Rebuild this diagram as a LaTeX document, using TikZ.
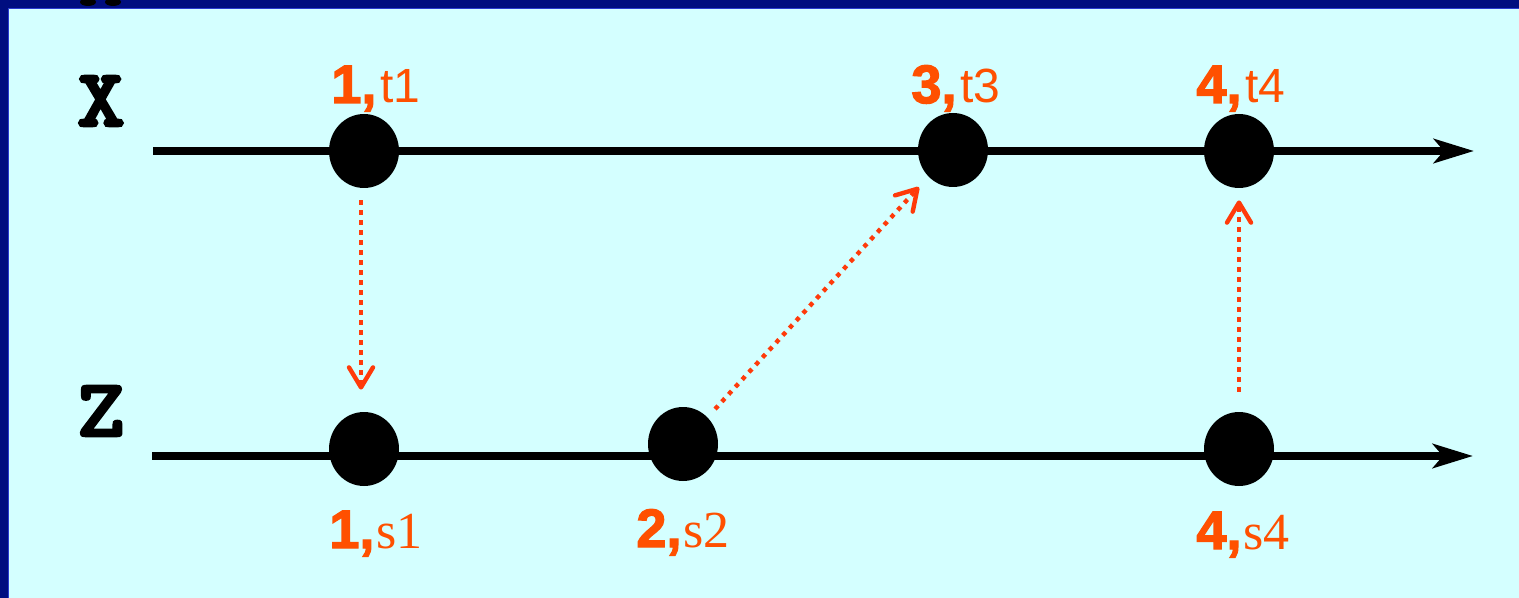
\documentclass[tikz,border=0pt]{standalone}
\usepackage{fontspec}
\usetikzlibrary{arrows.meta,shapes.geometric}
\setmainfont{Liberation Serif}
\newfontfamily\heavy[FakeBold=2.5]{Liberation Sans Bold}
\newfontfamily\tsans{Liberation Sans}
\newfontfamily\tserif{Liberation Serif}
\newfontfamily\monob{lmmonolt10-bold}[Extension=.otf,FakeBold=3,FakeStretch=1.12]
\definecolor{navy}{HTML}{000E80}
\definecolor{edgeblue}{HTML}{2A3CD0}
\definecolor{bgcyan}{HTML}{D4FFFF}
\definecolor{lblorange}{HTML}{FF5000}
\definecolor{arrred}{HTML}{FF3A0A}
\tikzset{
  dot/.style={ellipse,fill=black,inner sep=0pt,minimum width=35pt,minimum height=37pt},
  axis/.style={line width=4pt,-{Stealth[length=20pt,width=12pt,inset=5pt]}},
  msg/.style={arrred,line width=2.2pt,dash pattern=on 2.2pt off 2.8pt,
    -{Straight Barb[length=10pt,width=12pt,line width=2.2pt,line cap=round,line join=round]}},
  lbl/.style={anchor=base west,inner sep=0pt,text=lblorange},
  proc/.style={font=\monob\fontsize{41}{41}\selectfont,inner sep=0pt}
}
\newcommand{\bignum}[1]{{\heavy\fontsize{27}{27}\selectfont #1}}
\newcommand{\tlab}[1]{\hspace{2pt}{\tsans\fontsize{24}{24}\selectfont #1}}
\newcommand{\slab}[1]{\hspace{1pt}{\tserif\fontsize{26}{26}\selectfont #1}}
\begin{document}
\begin{tikzpicture}[x=0.5pt,y=-0.5pt]
\useasboundingbox (0,0) rectangle (1519,598);
\fill[navy] (0,0) rectangle (1519,598);
\fill[bgcyan] (8,8) rectangle (1519,598);
\draw[edgeblue,line width=0.6pt] (8.3,598) -- (8.3,8.3) -- (1519,8.3);
\fill[black] (88,2) ellipse (8 and 4);
\fill[black] (113,2) ellipse (8 and 4);
% process labels
\node[proc] (X) at (101,101) {X};
\node[proc] (Z) at (101,411) {Z};
% axes
\coordinate (xl) at (153,151);
\coordinate (xr) at (1474,151);
\coordinate (zl) at (152,456);
\coordinate (zr) at (1473,456);
\draw[axis] (xl) -- (xr);
\draw[axis] (zl) -- (zr);
% events
\node[dot] (t1) at (364,151) {};
\node[dot] (t3) at (953,150) {};
\node[dot] (t4) at (1239,151) {};
\node[dot] (s1) at (364,449) {};
\node[dot] (s2) at (683,444) {};
\node[dot] (s4) at (1239,449) {};
% labels
\node[lbl] (lt1) at (331,103) {\bignum{1,}\tlab{t1}};
\node[lbl] (lt3) at (911,103) {\bignum{3,}\tlab{t3}};
\node[lbl] (lt4) at (1196,103) {\bignum{4,}\tlab{t4}};
\node[lbl] (ls1) at (329,548) {\bignum{1,}\slab{s1}};
\node[lbl] (ls2) at (636,547) {\bignum{2,}\slab{s2}};
\node[lbl] (ls4) at (1196,549) {\bignum{4,}\slab{s4}};
% messages
\draw[msg,shorten <=6pt,shorten >=11pt] ([xshift=-1.5pt]t1.south) -- ([xshift=-1.5pt]s1.north);
\draw[msg,shorten <=5.5pt,shorten >=7pt] (s2) -- (t3);
\draw[msg,shorten <=10pt,shorten >=6pt] (s4.north) -- (t4.south);
\end{tikzpicture}
\end{document}
